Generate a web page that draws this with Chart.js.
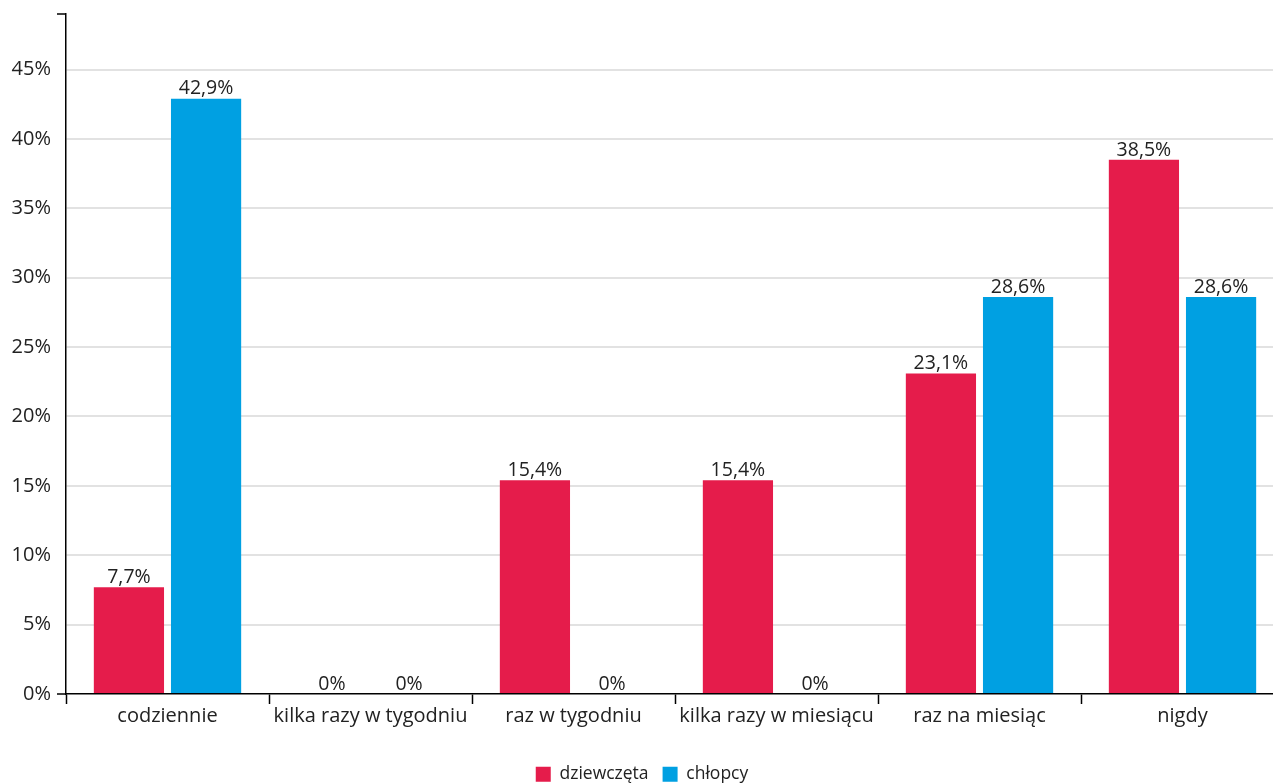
<!DOCTYPE html>
<html>
<head>
<meta charset="utf-8">
<script src="https://cdn.jsdelivr.net/npm/chart.js@4"></script>
<style>
  html, body { margin: 0; padding: 0; background: #fff; overflow: hidden; }
  #wrap { width: 1284px; height: 793px; position: relative; }
</style>
</head>
<body>
<div id="wrap"><canvas id="myChart"></canvas></div>
<script>
// dane z wykresu
const categories = ['codziennie', 'kilka razy w tygodniu', 'raz w tygodniu', 'kilka razy w miesiącu', 'raz na miesiąc', 'nigdy'];
const girls = [7.7, 0, 15.4, 15.4, 23.1, 38.5];
const boys = [42.9, 0, 0, 0, 28.6, 28.6];
const yTicks = [0, 5, 10, 15, 20, 25, 30, 35, 40, 45, 49];

const fmt = v => (v === 0 ? '0' : v.toFixed(1).replace('.', ',')) + '%';

// etykiety nad słupkami
const barLabels = {
    id: 'barLabels',
    afterDatasetsDraw(chart) {
        const c = chart.ctx;
        c.save();
        c.font = '19.5px "Open Sans"';
        c.fillStyle = '#222';
        c.textAlign = 'center';
        c.textBaseline = 'bottom';
        chart.data.datasets.forEach((ds, i) => {
            chart.getDatasetMeta(i).data.forEach((bar, j) => {
                c.fillText(fmt(ds.data[j]), bar.x, bar.y);
            });
        });
        c.restore();
    }
};

new Chart(document.getElementById('myChart'), {
    type: 'bar',
    data: {
        labels: categories,
        datasets: [
            { label: 'dziewczęta', data: girls, backgroundColor: '#e51c4b' },
            { label: 'chłopcy', data: boys, backgroundColor: '#00a0e2' }
        ]
    },
    options: {
        responsive: true,
        maintainAspectRatio: false,
        animation: false,
        categoryPercentage: 0.76,
        barPercentage: 0.91,
        layout: { padding: { left: 0, right: 0, top: 14, bottom: 0 } },
        plugins: {
            tooltip: { enabled: false },
            legend: {
                position: 'bottom',
                labels: {
                    color: '#222',
                    font: { family: '"Open Sans"', size: 17.5 },
                    boxWidth: 15,
                    boxHeight: 15,
                    padding: 14
                }
            }
        },
        scales: {
            x: {
                afterFit: s => { s.height = 57.5; },
                border: { color: '#000', width: 1.5 },
                grid: {
                    drawOnChartArea: false,
                    tickLength: 10,
                    tickColor: '#000',
                    tickWidth: 1.5
                },
                ticks: {
                    color: '#222',
                    font: { family: '"Open Sans"', size: 20 },
                    maxRotation: 0,
                    padding: 0
                }
            },
            y: {
                min: 0,
                max: 49,
                afterBuildTicks: s => { s.ticks = yTicks.map(v => ({ value: v })); },
                afterFit: s => { s.width = 66; s.paddingTop = 0; s.paddingBottom = 0; },
                border: { color: '#000', width: 1.5 },
                grid: {
                    color: c => (c.tick && (c.tick.value === 0 || c.tick.value === 49)) ? 'rgba(0,0,0,0)' : '#e2e2e2',
                    lineWidth: 2,
                    tickLength: 9,
                    tickColor: c => (c.tick && (c.tick.value === 0 || c.tick.value === 49)) ? '#000' : 'rgba(0,0,0,0)',
                    tickWidth: 1.5
                },
                ticks: {
                    color: '#222',
                    font: { family: '"Open Sans"', size: 20 },
                    padding: 6,
                    callback: v => v === 49 ? '' : v + '%'
                }
            }
        }
    },
    plugins: [barLabels]
});
</script>
</body>
</html>
